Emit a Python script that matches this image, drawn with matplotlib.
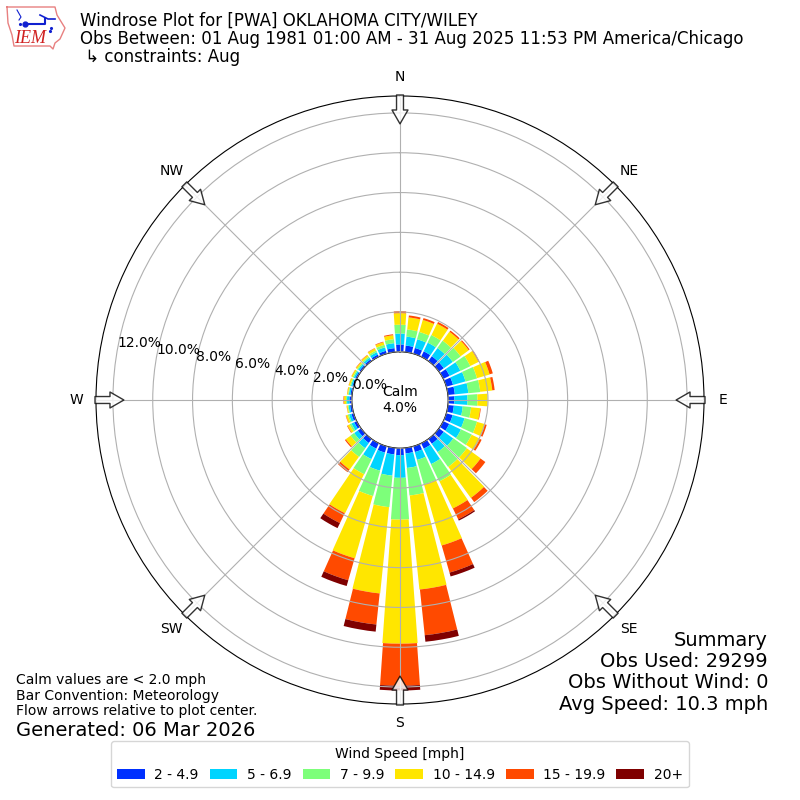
import numpy as np
import matplotlib
matplotlib.use("Agg")
import matplotlib.pyplot as plt
from matplotlib.patches import Patch

# wind direction bins, every 10 degrees starting at north
directions = list(range(0, 360, 10))

# percent of observations per direction for each speed class
speed_2_5 = [.37, .33, .30, .30, .30, .30, .35, .35, .35, .31, .30, .33,
             .33, .30, .30, .30, .30, .28, .35, .33, .33, .30, .25, .20,
             .14, .12, .10, .12, .08, .07, .08, .09, .10, .12, .15, .20]
speed_5_7 = [.55, .45, .45, .48, .50, .55, .60, .65, .68, .66, .45, .62,
             .65, .58, .51, .86, .41, .73, 1.14, 1.07, .94, .58, .32, .22,
             .15, .12, .08, .12, .08, .07, .08, .09, .10, .13, .18, .25]
speed_7_10 = [.44, .36, .38, .42, .45, .48, .55, .60, .60, .50, .42, .65,
              .60, .84, .91, .96, 1.27, 1.39, 2.10, 1.59, 1.32, .84, .53, .22,
              .10, .07, .04, .05, .04, .05, .06, .06, .07, .09, .13, .20]
speed_10_15 = [.58, .61, .63, .64, .56, .51, .46, .66, .61, .51, .46, .41,
               .46, .86, 1.93, 1.52, 3.20, 4.75, 6.23, 4.36, 3.26, 2.18, .79, .30,
               .12, .09, .05, .10, .05, .07, .07, .07, .09, .12, .14, .20]
speed_15_20 = [.10, .10, .10, .10, .08, .06, .05, .17, .12, .00, .03, .10,
               .10, .30, .27, .61, 1.42, 2.31, 2.11, 1.57, 1.15, .56, .17, .06,
               .03, .02, .01, .03, .01, .01, .01, .02, .02, .02, .03, .05]
speed_20_up = [0, 0, 0, 0, 0, 0, 0, 0, 0, 0, 0, 0,
               0, 0, 0, .07, .20, .33, .24, .36, .30, .28, 0, 0,
               0, 0, 0, 0, 0, 0, 0, 0, 0, 0, 0, 0]

speed_classes = [speed_2_5, speed_5_7, speed_7_10, speed_10_15, speed_15_20, speed_20_up]
speed_labels = ["2 - 4.9", "5 - 6.9", "7 - 9.9", "10 - 14.9", "15 - 19.9", "20+"]
speed_colors = ["#0030ff", "#00d4ff", "#7dff7a", "#ffe600", "#ff4a00", "#7f0000"]
bar_widths = [8.0, 8.3, 8.7, 8.3, 8.0, 8.0]

rings = [0, 2, 4, 6, 8, 10, 12]
compass = ["N", "NE", "E", "SE", "S", "SW", "W", "NW"]

fig = plt.figure(figsize=(8, 8), dpi=100)
ax = fig.add_axes([0.12, 0.12, 0.76, 0.76], projection="polar")
ax.set_theta_zero_location("N")
ax.set_theta_direction(-1)
ax.set_rorigin(-2.42)
ax.set_ylim(0, 12.85)

# stacked bars, one stack per direction
theta = np.radians(directions)
bottom = np.zeros(len(directions))
for values, color, width in zip(speed_classes, speed_colors, bar_widths):
    ax.bar(theta, values, width=np.radians(width), bottom=bottom, color=color, linewidth=0)
    bottom += np.array(values)

ax.set_axisbelow(False)
ax.set_rgrids(rings, ["%.1f%%" % r for r in rings], angle=280, ha="left")
ax.set_thetagrids(range(0, 360, 45), compass)
ax.grid(True, color="#b0b0b0")

# flow arrows pointing at the center
for angle in range(0, 360, 45):
    ax.annotate("", xy=(np.radians(angle), 11.45), xytext=(np.radians(angle), 12.9),
                annotation_clip=False, zorder=5,
                arrowprops=dict(facecolor="white", edgecolor="k", alpha=0.8, shrink=0,
                                width=5, headwidth=11.5, headlength=10, linewidth=1))

ax.text(0.5, 0.5, "Calm\n4.0%", transform=ax.transAxes, ha="center", va="center", fontsize=10)

# header
fig.text(80 / 800, 1 - 12 / 800,
         "Windrose Plot for [PWA] OKLAHOMA CITY/WILEY\n"
         "Obs Between: 01 Aug 1981 01:00 AM - 31 Aug 2025 11:53 PM America/Chicago\n"
         " \u21b3 constraints: Aug", fontsize=12, va="top", linespacing=1.0)

# logo drawn by hand in pixel coordinates
logo = fig.add_axes([0, 1 - 60 / 800, 70 / 800, 60 / 800])
logo.set_xlim(0, 70)
logo.set_ylim(60, 0)
logo.axis("off")
logo.plot([7, 55, 57, 65, 60, 55, 53, 50, 14, 12, 8, 7],
          [7, 7, 15, 28, 39, 43, 49, 46, 46, 35, 23, 7], color="#e88080", lw=1)
logo.plot([25, 45, 45], [24, 24, 19], color="#1020d0", lw=1.5)
logo.plot([25], [24], "o", color="#1020d0", ms=3.5)
logo.plot([17, 21, 19], [10, 17, 20], color="#1020d0", lw=0.8)
logo.plot([40, 48, 55], [15, 19, 19], color="#1020d0", lw=1.2)
logo.plot([20, 51, 50], [24, 28, 31], ".", color="#1020d0", ms=2.5, linestyle="none")
logo.text(30, 43, "IEM", color="#d02020", family="Liberation Serif", style="italic",
          fontsize=13, ha="center")

# summary on the right
fig.text(768 / 800, 1 - 631 / 800,
         "Summary\nObs Used: 29299\nObs Without Wind: 0\nAvg Speed: 10.3 mph",
         fontsize=14, ha="right", va="top", multialignment="right", linespacing=1.15)

# notes on the left
fig.text(16 / 800, 1 - 673 / 800,
         "Calm values are < 2.0 mph\nBar Convention: Meteorology\nFlow arrows relative to plot center.",
         fontsize=10, va="top", linespacing=1.15)
fig.text(16 / 800, 1 - 721 / 800, "Generated: 06 Mar 2026", fontsize=14, va="top")

handles = [Patch(color=c, linewidth=0) for c in speed_colors]
fig.legend(handles, speed_labels, title="Wind Speed [mph]", ncol=6, loc="lower center",
           bbox_to_anchor=(0.5, 0.007), handletextpad=0.7, columnspacing=0.78,
           fontsize=10, title_fontsize=10)

fig.savefig("out.png", dpi=100)
